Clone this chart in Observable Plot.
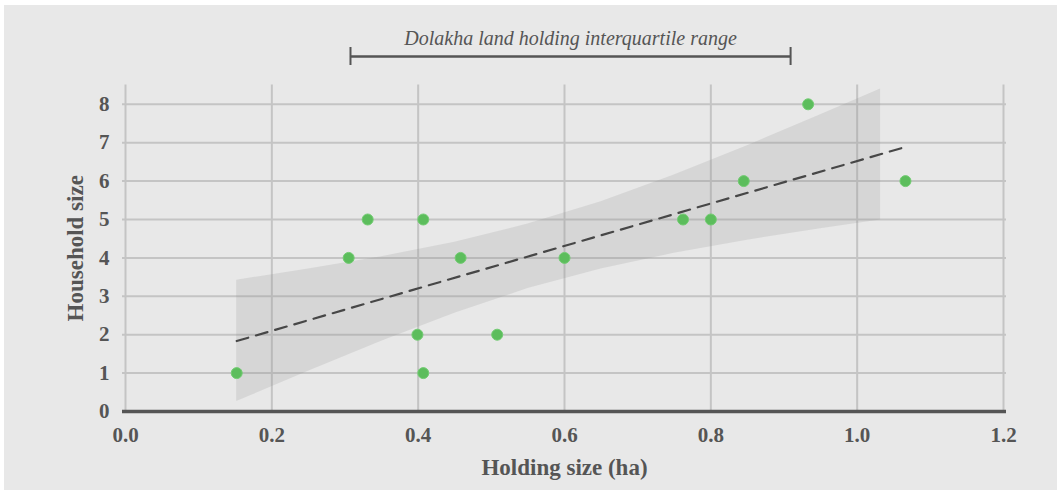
<!DOCTYPE html>
<html>
<head>
<meta charset="utf-8">
<script src="https://cdn.jsdelivr.net/npm/d3@7"></script>
<script src="https://cdn.jsdelivr.net/npm/@observablehq/plot@0.6"></script>
<style>
  html, body { margin: 0; padding: 0; background: #ffffff; }
  #wrap { position: relative; width: 1057px; height: 490px; overflow: hidden; }
  #panel { position: absolute; left: 4px; top: 5px; width: 1053px; height: 485px; background: #e8e8e8; }
  #chart { position: absolute; left: 0; top: 0; }
</style>
</head>
<body>
<div id="wrap"><div id="panel"></div><div id="chart"></div></div>
<script>
// Holding size (ha) and household size of each surveyed household
const holdingSize = [0.152, 0.305, 0.331, 0.399, 0.407, 0.407, 0.458, 0.508, 0.600, 0.762, 0.800, 0.845, 0.933, 1.066];
const householdSize = [1, 4, 5, 2, 5, 1, 4, 2, 4, 5, 5, 6, 8, 6];

// 95% confidence band of the fit
const bandX    = [0.152, 0.25, 0.35, 0.45, 0.55, 0.65, 0.75, 0.85, 0.95, 1.032];
const bandLow  = [0.26, 1.05, 1.83, 2.56, 3.20, 3.71, 4.12, 4.46, 4.76, 4.99];
const bandHigh = [3.42, 3.71, 4.03, 4.41, 4.88, 5.46, 6.16, 6.92, 7.73, 8.40];

// Dolakha land holding interquartile range
const iqr = [0.3075, 0.909];
const iqrLabel = "Dolakha land holding interquartile range";

const xTicks = [0, 0.2, 0.4, 0.6, 0.8, 1.0, 1.2];
const yTicks = [0, 1, 2, 3, 4, 5, 6, 7, 8];
const xLabel = "Holding size (ha)";
const yLabel = "Household size";
const yMax = 8.5;

const points = holdingSize.map((x, i) => ({x, y: householdSize[i]}));
const band = bandX.map((x, i) => ({x, lo: bandLow[i], hi: bandHigh[i]}));

const textColor = "#555555";
const font = "'Liberation Serif', 'DejaVu Serif', serif";

const chart = Plot.plot({
  width: 1057,
  height: 490,
  marginLeft: 125,
  marginRight: 54,
  marginTop: 84.6,
  marginBottom: 79,
  style: {background: "transparent", fontFamily: font, color: textColor},
  x: {domain: [0, 1.2]},
  y: {domain: [0, yMax]},
  marks: [
    Plot.ruleX(xTicks, {stroke: "#c4c4c4", strokeWidth: 2}),
    Plot.ruleY(yTicks.filter(d => d > 0), {stroke: "#c4c4c4", strokeWidth: 2, insetLeft: -3, insetRight: -3}),
    Plot.areaY(band, {x: "x", y1: "lo", y2: "hi", fill: "#8f8f8f", fillOpacity: 0.2}),
    Plot.ruleY([0], {stroke: "#555555", strokeWidth: 3.5, insetLeft: -3, insetRight: -3}),
    Plot.linearRegressionY(points, {x: "x", y: "y", ci: 0, stroke: "#474747", strokeWidth: 2.2, strokeDasharray: "12,8"}),
    Plot.dot(points, {x: "x", y: "y", r: 5.5, fill: "#5cbd5c", stroke: "#72cc72", strokeWidth: 1}),
    Plot.axisX(xTicks, {tickSize: 0, tickPadding: 16, tickFormat: d3.format(".1f"), fontSize: 21, fontWeight: "bold", fill: textColor, label: null}),
    Plot.axisY(yTicks, {tickSize: 0, tickPadding: 16, fontSize: 21, fontWeight: "bold", fill: textColor, label: null}),
    Plot.text([xLabel], {frameAnchor: "bottom", dy: 56, textAnchor: "middle", lineAnchor: "middle", fontSize: 23, fontWeight: "bold", fill: textColor}),
    Plot.text([yLabel], {frameAnchor: "left", dx: -50, rotate: -90, textAnchor: "middle", lineAnchor: "middle", fontSize: 23, fontWeight: "bold", fill: textColor}),
    // interquartile range bracket
    Plot.ruleY([iqr], {x1: d => d[0], x2: d => d[1], y: () => yMax, dy: -28.6, stroke: "#555555", strokeWidth: 2.5}),
    Plot.ruleX(iqr, {y1: () => yMax, y2: () => yMax, dy: -28.6, insetTop: -9, insetBottom: -9, stroke: "#555555", strokeWidth: 2}),
    Plot.text([iqrLabel], {x: () => (iqr[0] + iqr[1]) / 2, y: () => yMax, dy: -46.6, lineAnchor: "middle", fontSize: 20, fontStyle: "italic", fill: textColor})
  ]
});
document.getElementById("chart").appendChild(chart);
</script>
</body>
</html>
